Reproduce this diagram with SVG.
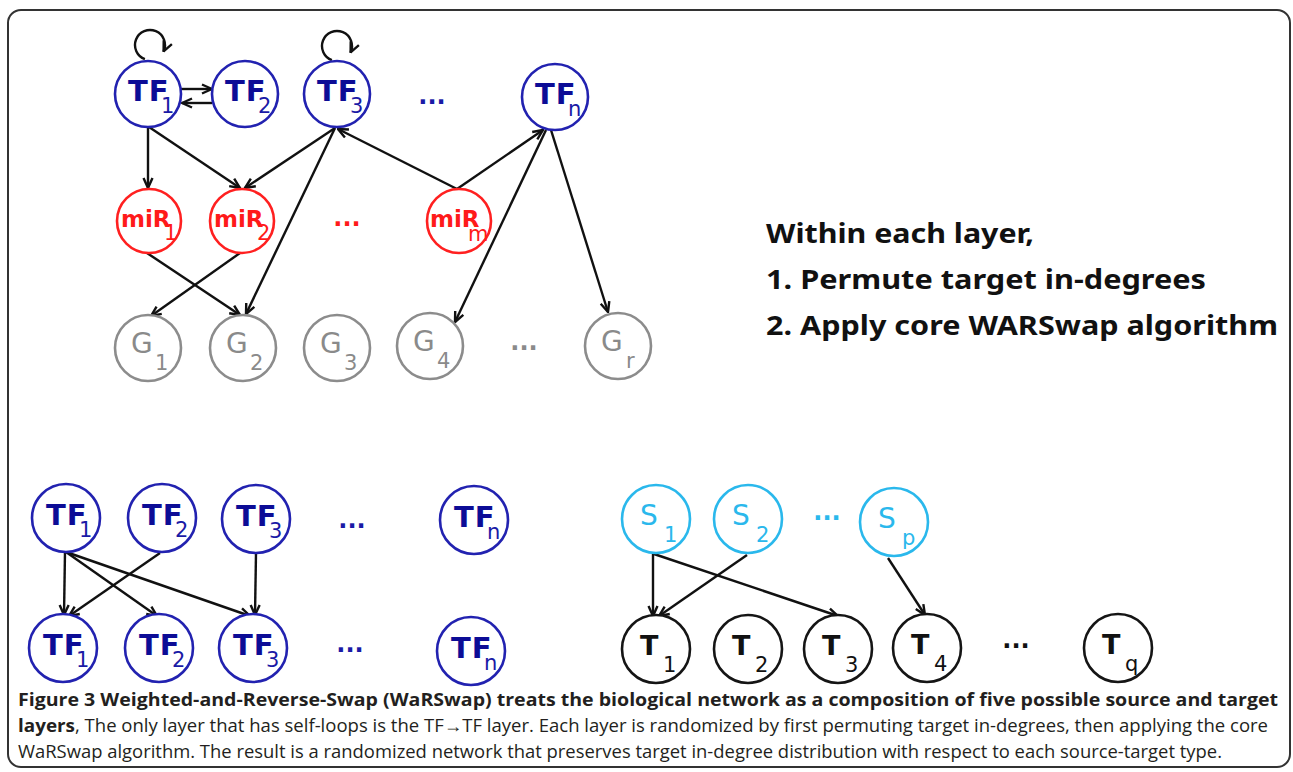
<svg xmlns="http://www.w3.org/2000/svg" width="1293" height="772" viewBox="0 0 1293 772">
<defs>
<marker id="arr" viewBox="0 0 12 12" refX="11" refY="6" markerWidth="12" markerHeight="12" markerUnits="userSpaceOnUse" orient="auto">
<path d="M1,1.5 L11,6 L1,10.5" fill="none" stroke="#111" stroke-width="2.4"/>
</marker>
<style>
.tf{fill:#fff;stroke:#2222b0;stroke-width:2.6}
.mi{fill:#fff;stroke:#ff2020;stroke-width:2.6}
.g{fill:#fff;stroke:#8c8c8c;stroke-width:2.6}
.s{fill:#fff;stroke:#2ab8ec;stroke-width:2.6}
.t{fill:#fff;stroke:#151515;stroke-width:2.6}
.lbl{font-family:"DejaVu Sans",Verdana,sans-serif}
.tft{font-weight:bold;font-size:29px;fill:#0c0c96;letter-spacing:1px}
.sub{font-weight:normal;font-size:21px;letter-spacing:0}
.tfs{fill:#1a1aa6}
.mit{font-weight:bold;font-size:23px;fill:#ff1a1a}
.gt{font-size:28px;fill:#8a8a8a}
.st{font-size:28px;fill:#2ab8ec}
.tt{font-weight:bold;font-size:27px;fill:#111}
.dots{font-family:"DejaVu Sans",Verdana,sans-serif;font-weight:bold;font-size:24px;text-anchor:middle}
.rt{font-family:"Noto Sans",sans-serif;font-weight:bold;font-size:27px;fill:#111}
.cap{font-family:"Open Sans","Noto Sans",sans-serif;font-size:18px;fill:#231f20}
.capb{font-family:"Open Sans","Noto Sans",sans-serif;font-size:18px;font-weight:bold;fill:#231f20}
.e{fill:none;stroke:#111;stroke-width:2.4;marker-end:url(#arr)}
</style>
</defs>
<rect x="8" y="10" width="1282" height="757" rx="13" fill="none" stroke="#333" stroke-width="2"/>

<g id="connectors">
<path class="e" d="M144.9,59.1 A15,15 0 1 1 163.6,51.3"/>
<path class="e" d="M331.9,60.1 A15,15 0 1 1 350.6,52.3"/>
<line class="e" x1="181" y1="89" x2="212" y2="89"/>
<line class="e" x1="212" y1="103" x2="182" y2="103"/>
<line class="e" x1="148" y1="127" x2="148" y2="188"/>
<line class="e" x1="149" y1="127" x2="240" y2="188"/>
<line class="e" x1="335" y1="128" x2="245" y2="188"/>
<line class="e" x1="335" y1="128" x2="246" y2="314"/>
<line class="e" x1="457" y1="189" x2="338" y2="129"/>
<line class="e" x1="457" y1="189" x2="543" y2="130"/>
<line class="e" x1="546" y1="130" x2="455" y2="322"/>
<line class="e" x1="551" y1="130" x2="608" y2="312"/>
<line class="e" x1="147" y1="253" x2="240" y2="315"/>
<line class="e" x1="240" y1="253" x2="151" y2="316"/>

<line class="e" x1="65" y1="552" x2="64" y2="615"/>
<line class="e" x1="66" y1="552" x2="157" y2="616"/>
<line class="e" x1="66" y1="552" x2="250" y2="616"/>
<line class="e" x1="160" y1="553" x2="69" y2="616"/>
<line class="e" x1="256" y1="553" x2="255" y2="615"/>

<line class="e" x1="653" y1="554" x2="653" y2="616"/>
<line class="e" x1="654" y1="554" x2="838" y2="616"/>
<line class="e" x1="747" y1="555" x2="659" y2="616"/>
<line class="e" x1="888" y1="558" x2="925" y2="615"/>
</g>

<g id="TF1"><circle class="tf" cx="148" cy="94" r="33"/><text class="lbl tft" x="128" y="101">TF<tspan class="sub tfs" x="161" dy="12">1</tspan></text></g>
<g id="TF2"><circle class="tf" cx="245" cy="94" r="33"/><text class="lbl tft" x="225" y="101">TF<tspan class="sub tfs" x="258" dy="12">2</tspan></text></g>
<g id="TF3"><circle class="tf" cx="337" cy="94" r="33"/><text class="lbl tft" x="317" y="101">TF<tspan class="sub tfs" x="350" dy="12">3</tspan></text></g>
<g id="dotsTF"><text class="dots" x="432" y="104" fill="#1a1aa6">...</text></g>
<g id="TFn"><circle class="tf" cx="555" cy="97" r="33"/><text class="lbl tft" x="535" y="104">TF<tspan class="sub tfs" x="568" dy="12">n</tspan></text></g>

<g id="miR1"><circle class="mi" cx="149" cy="221" r="32"/><text class="lbl mit" x="121" y="227">miR<tspan class="sub" x="164" dy="13">1</tspan></text></g>
<g id="miR2"><circle class="mi" cx="242" cy="221" r="32"/><text class="lbl mit" x="214" y="227">miR<tspan class="sub" x="257" dy="13">2</tspan></text></g>
<g id="dotsMiR"><text class="dots" x="347" y="226" fill="#ff1a1a">...</text></g>
<g id="miRm"><circle class="mi" cx="459" cy="221" r="32"/><text class="lbl mit" x="430" y="227">miR<tspan class="sub" x="468" dy="14">m</tspan></text></g>

<g id="G1"><circle class="g" cx="148" cy="348" r="33"/><text class="lbl gt" x="131" y="353">G<tspan class="sub" x="155" dy="17">1</tspan></text></g>
<g id="G2"><circle class="g" cx="243" cy="348" r="33"/><text class="lbl gt" x="226" y="353">G<tspan class="sub" x="250" dy="17">2</tspan></text></g>
<g id="G3"><circle class="g" cx="337" cy="348" r="33"/><text class="lbl gt" x="320" y="353">G<tspan class="sub" x="344" dy="17">3</tspan></text></g>
<g id="G4"><circle class="g" cx="430" cy="346" r="33"/><text class="lbl gt" x="413" y="351">G<tspan class="sub" x="437" dy="17">4</tspan></text></g>
<g id="dotsG"><text class="dots" x="524" y="350" fill="#8a8a8a" font-weight="normal">...</text></g>
<g id="Gr"><circle class="g" cx="618" cy="346" r="33"/><text class="lbl gt" x="601" y="351">G<tspan class="sub" x="626" dy="17">r</tspan></text></g>

<g id="legend">
<text class="rt" x="766" y="243" textLength="268" lengthAdjust="spacingAndGlyphs">Within each layer,</text>
<text class="rt" x="766" y="289" textLength="440" lengthAdjust="spacingAndGlyphs">1. Permute target in-degrees</text>
<text class="rt" x="766" y="335" textLength="512" lengthAdjust="spacingAndGlyphs">2. Apply core WARSwap algorithm</text>
</g>

<g id="bTF1a"><circle class="tf" cx="66" cy="518" r="34"/><text class="lbl tft" x="46" y="525">TF<tspan class="sub tfs" x="79" dy="12">1</tspan></text></g>
<g id="bTF2a"><circle class="tf" cx="162" cy="518" r="34"/><text class="lbl tft" x="142" y="525">TF<tspan class="sub tfs" x="175" dy="12">2</tspan></text></g>
<g id="bTF3a"><circle class="tf" cx="256" cy="519" r="34"/><text class="lbl tft" x="236" y="526">TF<tspan class="sub tfs" x="269" dy="12">3</tspan></text></g>
<g id="dotsbTFa"><text class="dots" x="352" y="528" fill="#1a1aa6">...</text></g>
<g id="bTFna"><circle class="tf" cx="474" cy="520" r="34"/><text class="lbl tft" x="454" y="527">TF<tspan class="sub tfs" x="487" dy="12">n</tspan></text></g>

<g id="bTF1b"><circle class="tf" cx="63" cy="648" r="34"/><text class="lbl tft" x="43" y="655">TF<tspan class="sub tfs" x="76" dy="12">1</tspan></text></g>
<g id="bTF2b"><circle class="tf" cx="159" cy="648" r="34"/><text class="lbl tft" x="139" y="655">TF<tspan class="sub tfs" x="172" dy="12">2</tspan></text></g>
<g id="bTF3b"><circle class="tf" cx="253" cy="648" r="34"/><text class="lbl tft" x="233" y="655">TF<tspan class="sub tfs" x="266" dy="12">3</tspan></text></g>
<g id="dotsbTFb"><text class="dots" x="350" y="652" fill="#1a1aa6">...</text></g>
<g id="bTFnb"><circle class="tf" cx="471" cy="651" r="34"/><text class="lbl tft" x="451" y="658">TF<tspan class="sub tfs" x="484" dy="12">n</tspan></text></g>

<g id="S1"><circle class="s" cx="656" cy="519" r="34"/><text class="lbl st" x="640" y="525">S<tspan class="sub" x="664" dy="17">1</tspan></text></g>
<g id="S2"><circle class="s" cx="748" cy="519" r="34"/><text class="lbl st" x="732" y="525">S<tspan class="sub" x="756" dy="17">2</tspan></text></g>
<g id="dotsS"><text class="dots" x="827" y="520" fill="#2ab8ec" font-weight="normal">...</text></g>
<g id="Sp"><circle class="s" cx="894" cy="522" r="34"/><text class="lbl st" x="878" y="528">S<tspan class="sub" x="902" dy="17">p</tspan></text></g>

<g id="T1"><circle class="t" cx="656" cy="649" r="34"/><text class="lbl tt" x="640" y="655">T<tspan class="sub" x="663" dy="17">1</tspan></text></g>
<g id="T2"><circle class="t" cx="748" cy="649" r="34"/><text class="lbl tt" x="732" y="655">T<tspan class="sub" x="755" dy="17">2</tspan></text></g>
<g id="T3"><circle class="t" cx="838" cy="649" r="34"/><text class="lbl tt" x="822" y="655">T<tspan class="sub" x="845" dy="17">3</tspan></text></g>
<g id="T4"><circle class="t" cx="927" cy="648" r="34"/><text class="lbl tt" x="911" y="654">T<tspan class="sub" x="934" dy="17">4</tspan></text></g>
<g id="dotsT"><text class="dots" x="1016" y="648" fill="#111" font-weight="normal">...</text></g>
<g id="Tq"><circle class="t" cx="1118" cy="648" r="34"/><text class="lbl tt" x="1102" y="654">T<tspan class="sub" x="1125" dy="17">q</tspan></text></g>

<g id="caption">
<text class="capb" x="18" y="706" textLength="1260" lengthAdjust="spacingAndGlyphs">Figure 3 Weighted-and-Reverse-Swap (WaRSwap) treats the biological network as a composition of five possible source and target</text>
<text class="capb" x="18" y="732" textLength="57" lengthAdjust="spacingAndGlyphs">layers</text>
<text class="cap" x="75" y="732" textLength="1193" lengthAdjust="spacingAndGlyphs">, The only layer that has self-loops is the TF→TF layer. Each layer is randomized by first permuting target in-degrees, then applying the core</text>
<text class="cap" x="18" y="758" textLength="1204" lengthAdjust="spacingAndGlyphs">WaRSwap algorithm. The result is a randomized network that preserves target in-degree distribution with respect to each source-target type.</text>
</g>
</svg>
